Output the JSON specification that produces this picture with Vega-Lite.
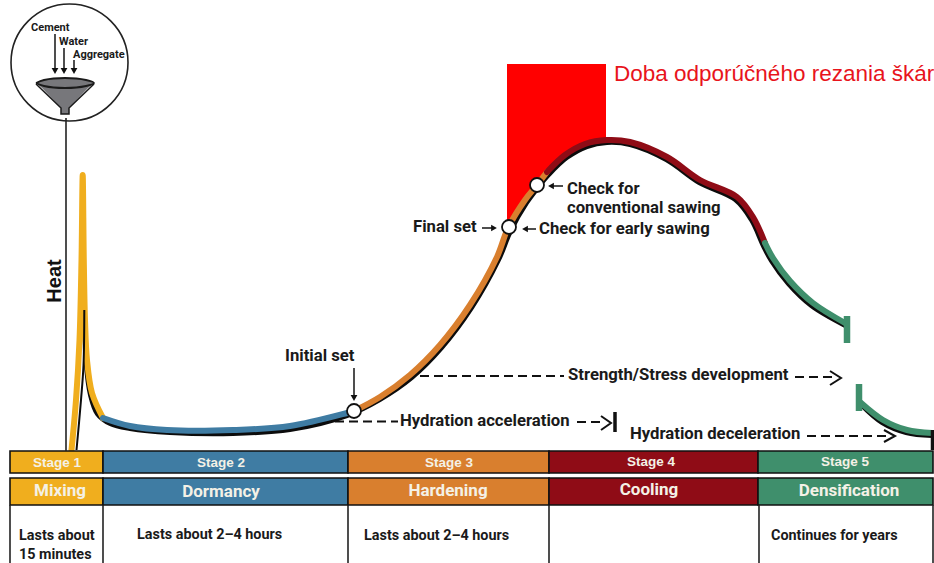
{
"$schema":"https://vega.github.io/schema/vega-lite/v6.json",
"width":934,"height":563,"padding":0,
"autosize":"none",
"background":"#ffffff",
"config":{"view":{"stroke":null}},
"datasets":{
"stages":[
{"x":10,"x2":103,"y":451,"y2":473,"stage":"1"},{"x":103,"x2":348,"y":451,"y2":473,"stage":"2"},{"x":348,"x2":549,"y":451,"y2":473,"stage":"3"},{"x":549,"x2":758,"y":451,"y2":473,"stage":"4"},{"x":758,"x2":933,"y":451,"y2":473,"stage":"5"},
{"x":10,"x2":103,"y":478,"y2":505,"stage":"1"},{"x":103,"x2":348,"y":478,"y2":505,"stage":"2"},{"x":348,"x2":549,"y":478,"y2":505,"stage":"3"},{"x":549,"x2":758,"y":478,"y2":505,"stage":"4"},{"x":758,"x2":933,"y":478,"y2":505,"stage":"5"}],
"curve":[
{"i":1,"seg":"1","x":71.5,"y":450},{"i":2,"seg":"1","x":76,"y":400},{"i":3,"seg":"1","x":79.5,"y":340},{"i":4,"seg":"1","x":81.5,"y":260},{"i":5,"seg":"1","x":82.7,"y":175},{"i":6,"seg":"1","x":83.8,"y":260},{"i":7,"seg":"1","x":85,"y":320},{"i":8,"seg":"1","x":87,"y":360},{"i":9,"seg":"1","x":92,"y":393},{"i":10,"seg":"1","x":103,"y":418},
{"i":11,"seg":"2","x":103,"y":418},{"i":12,"seg":"2","x":130,"y":426},{"i":13,"seg":"2","x":167,"y":430},{"i":14,"seg":"2","x":233,"y":430},{"i":15,"seg":"2","x":290,"y":426},{"i":16,"seg":"2","x":347,"y":413},{"i":17,"seg":"2","x":354,"y":411},
{"i":18,"seg":"3","x":354,"y":411},{"i":19,"seg":"3","x":380,"y":397},{"i":20,"seg":"3","x":410,"y":375},{"i":21,"seg":"3","x":440,"y":345},{"i":22,"seg":"3","x":470,"y":305},{"i":23,"seg":"3","x":497,"y":257},{"i":24,"seg":"3","x":508,"y":228},{"i":25,"seg":"3","x":525,"y":200},{"i":26,"seg":"3","x":537,"y":185},{"i":27,"seg":"3","x":547,"y":172},
{"i":28,"seg":"4","x":547,"y":172},{"i":29,"seg":"4","x":565,"y":155},{"i":30,"seg":"4","x":585,"y":144},{"i":31,"seg":"4","x":607,"y":140},{"i":32,"seg":"4","x":630,"y":142},{"i":33,"seg":"4","x":667,"y":157},{"i":34,"seg":"4","x":700,"y":180},{"i":35,"seg":"4","x":737,"y":197},{"i":36,"seg":"4","x":753,"y":217},{"i":37,"seg":"4","x":765,"y":243},
{"i":38,"seg":"5","x":765,"y":243},{"i":39,"seg":"5","x":773,"y":258},{"i":40,"seg":"5","x":790,"y":281},{"i":41,"seg":"5","x":813,"y":303},{"i":42,"seg":"5","x":845,"y":323},
{"i":43,"seg":"5b","x":860,"y":402},{"i":44,"seg":"5b","x":883,"y":420},{"i":45,"seg":"5b","x":907,"y":430},{"i":46,"seg":"5b","x":932,"y":433}],
"shadow":[
{"i":1,"seg":"a","x":84.5,"y":310},{"i":2,"seg":"a","x":85.5,"y":360},{"i":3,"seg":"a","x":90,"y":395},{"i":4,"seg":"a","x":97,"y":414},{"i":5,"seg":"a","x":110,"y":424},{"i":6,"seg":"a","x":130,"y":429},{"i":7,"seg":"a","x":170,"y":433},{"i":8,"seg":"a","x":233,"y":434},{"i":9,"seg":"a","x":290,"y":430},{"i":10,"seg":"a","x":347,"y":416},{"i":11,"seg":"a","x":380,"y":400},{"i":12,"seg":"a","x":412,"y":378},{"i":13,"seg":"a","x":442,"y":348},{"i":14,"seg":"a","x":472,"y":308},{"i":15,"seg":"a","x":499,"y":260},{"i":16,"seg":"a","x":511,"y":231},{"i":17,"seg":"a","x":527,"y":203},{"i":18,"seg":"a","x":539,"y":187},{"i":19,"seg":"a","x":549,"y":175},{"i":20,"seg":"a","x":567,"y":158},{"i":21,"seg":"a","x":587,"y":147},{"i":22,"seg":"a","x":607,"y":143},{"i":23,"seg":"a","x":630,"y":145},{"i":24,"seg":"a","x":666,"y":160},{"i":25,"seg":"a","x":699,"y":183},{"i":26,"seg":"a","x":735,"y":200},{"i":27,"seg":"a","x":751,"y":220},{"i":28,"seg":"a","x":763,"y":246},{"i":29,"seg":"a","x":771,"y":261},{"i":30,"seg":"a","x":788,"y":284},{"i":31,"seg":"a","x":811,"y":306},{"i":32,"seg":"a","x":845,"y":326},
{"i":33,"seg":"b","x":861,"y":405},{"i":34,"seg":"b","x":882,"y":423},{"i":35,"seg":"b","x":906,"y":433},{"i":36,"seg":"b","x":932,"y":436}],
"spike":[{"i":1,"x":76.5,"y":450},{"i":2,"x":81,"y":400},{"i":3,"x":83.5,"y":365},{"i":4,"x":84.3,"y":310}],
"red":[{"x":507,"y":228,"top":64},{"x":525,"y":200,"top":64},{"x":537,"y":185,"top":64},{"x":547,"y":172,"top":64},{"x":565,"y":155,"top":64},{"x":585,"y":144,"top":64},{"x":606,"y":140,"top":64}],
"funnelBody":[{"x":36,"y":83,"y2":83},{"x":42,"y":80,"y2":88},{"x":61,"y":78,"y2":108},{"x":61,"y":78,"y2":114},{"x":69,"y":78,"y2":114},{"x":69,"y":78,"y2":108},{"x":88,"y":80,"y2":88},{"x":94,"y":83,"y2":83}],
"funnelRim":[{"i":1,"x":36,"y":83},{"i":2,"x":44,"y":80},{"i":3,"x":65,"y":78},{"i":4,"x":86,"y":80},{"i":5,"x":94,"y":83},{"i":6,"x":86,"y":86},{"i":7,"x":65,"y":88},{"i":8,"x":44,"y":86},{"i":9,"x":36,"y":83}],
"funnelOutline":[{"i":1,"x":36,"y":84},{"i":2,"x":61,"y":108},{"i":3,"x":61,"y":114},{"i":4,"x":69,"y":114},{"i":5,"x":69,"y":108},{"i":6,"x":94,"y":84}],
"thinRules":[
{"x":66,"x2":66,"y":118,"y2":451},
{"x":55,"x2":55,"y":34,"y2":72},{"x":64,"x2":64,"y":48,"y2":72},{"x":74,"x2":74,"y":60,"y2":72},
{"x":354,"x2":354,"y":368,"y2":398},
{"x":482,"x2":492,"y":228,"y2":228},{"x":526,"x2":536,"y":229,"y2":229},{"x":552,"x2":563,"y":186,"y2":186},
{"x":10,"x2":10,"y":505,"y2":563},{"x":103,"x2":103,"y":505,"y2":563},{"x":348,"x2":348,"y":505,"y2":563},{"x":549,"x2":549,"y":505,"y2":563},{"x":759,"x2":759,"y":505,"y2":563},{"x":933,"x2":933,"y":505,"y2":563}],
"heads":[
{"x":55,"y":71,"dir":"triangle-down"},{"x":64,"y":71,"dir":"triangle-down"},{"x":74,"y":71,"dir":"triangle-down"},{"x":354,"y":398,"dir":"triangle-down"},
{"x":494,"y":228,"dir":"triangle-right"},{"x":525,"y":229,"dir":"triangle-left"},{"x":551,"y":186,"dir":"triangle-left"}],
"dashes":[
{"id":"a1","x":335,"y":421.5},{"id":"a1","x":398,"y":421.5},
{"id":"a2","x":577,"y":422},{"id":"a2","x":603,"y":422},
{"id":"s1","x":420,"y":376},{"id":"s1","x":564,"y":376},
{"id":"s2","x":795,"y":377},{"id":"s2","x":835,"y":377},
{"id":"d1","x":807,"y":436},{"id":"d1","x":888,"y":436}],
"chevrons":[
{"id":"a","i":1,"x":601,"y":416},{"id":"a","i":2,"x":611,"y":423},{"id":"a","i":3,"x":601,"y":430},
{"id":"s","i":1,"x":830,"y":371},{"id":"s","i":2,"x":841,"y":378},{"id":"s","i":3,"x":830,"y":385},
{"id":"d","i":1,"x":884,"y":430},{"id":"d","i":2,"x":895,"y":436},{"id":"d","i":3,"x":884,"y":442}],
"blackTicks":[{"x":615,"y":412,"y2":432},{"x":932.5,"y":430,"y2":450}],
"greenTicks":[{"x":847,"y":316,"y2":343},{"x":859,"y":384,"y2":411}],
"circles":[{"x":354,"y":411},{"x":509,"y":227},{"x":537,"y":185}]
},
"encoding":{
"x":{"field":"x","type":"quantitative","scale":{"domain":[0,934],"nice":false,"zero":false},"axis":null},
"y":{"field":"y","type":"quantitative","scale":{"domain":[563,0],"nice":false,"zero":false},"axis":null}
},
"layer":[
{"data":{"name":"red"},"mark":{"type":"area","color":"#ff0000","interpolate":"catmull-rom"},"encoding":{"y2":{"field":"top"}}},
{"data":{"values":[{"x":69.5,"y":62.5}]},"mark":{"type":"point","shape":"circle","size":13689,"filled":false,"stroke":"#222222","strokeWidth":1.6,"opacity":1}},
{"data":{"name":"funnelBody"},"mark":{"type":"area","color":"#77777b"},"encoding":{"y2":{"field":"y2"}}},
{"data":{"name":"funnelOutline"},"mark":{"type":"line","color":"#1a1a1a","strokeWidth":1.5},"encoding":{"order":{"field":"i"}}},
{"data":{"name":"funnelRim"},"mark":{"type":"line","color":"#1a1a1a","strokeWidth":1.8,"interpolate":"catmull-rom"},"encoding":{"order":{"field":"i"}}},
{"data":{"name":"shadow"},"mark":{"type":"line","color":"#0c0c0c","strokeWidth":4,"interpolate":"catmull-rom"},"encoding":{"detail":{"field":"seg"},"order":{"field":"i"}}},
{"data":{"name":"curve"},"mark":{"type":"line","strokeWidth":6,"interpolate":"catmull-rom","strokeCap":"round"},"encoding":{"detail":{"field":"seg"},"order":{"field":"i"},"color":{"field":"seg","type":"nominal","legend":null,"scale":{"domain":["1","2","3","4","5","5b"],"range":["#f0ae1e","#3f7ca3","#d97f2e","#8f0c16","#3f8f6c","#3f8f6c"]}}}},
{"data":{"name":"spike"},"mark":{"type":"line","color":"#0c0c0c","strokeWidth":2,"interpolate":"catmull-rom"},"encoding":{"order":{"field":"i"}}},
{"data":{"name":"blackTicks"},"mark":{"type":"rule","color":"#111111","strokeWidth":3.5},"encoding":{"y2":{"field":"y2"}}},
{"data":{"name":"greenTicks"},"mark":{"type":"rule","color":"#3f8f6c","strokeWidth":6.5},"encoding":{"y2":{"field":"y2"}}},
{"data":{"name":"stages"},"mark":{"type":"rect","stroke":"#111111","strokeWidth":1.6},"encoding":{"x2":{"field":"x2"},"y2":{"field":"y2"},"color":{"field":"stage","type":"nominal","legend":null,"scale":{"domain":["1","2","3","4","5"],"range":["#eea51c","#3c7aa0","#d97a2b","#960a10","#3b8a63"]}}}},
{"data":{"name":"thinRules"},"mark":{"type":"rule","color":"#222222","strokeWidth":1.6},"encoding":{"x2":{"field":"x2"},"y2":{"field":"y2"}}},
{"data":{"name":"heads"},"mark":{"type":"point","filled":true,"color":"#111111","size":45,"opacity":1},"encoding":{"shape":{"field":"dir","type":"nominal","legend":null,"scale":null}}},
{"data":{"name":"dashes"},"mark":{"type":"line","color":"#111111","strokeWidth":2,"strokeDash":[9,5]},"encoding":{"detail":{"field":"id"}}},
{"data":{"name":"chevrons"},"mark":{"type":"line","color":"#111111","strokeWidth":2},"encoding":{"detail":{"field":"id"},"order":{"field":"i"}}},
{"data":{"name":"circles"},"mark":{"type":"point","shape":"circle","size":196,"filled":true,"fill":"#ffffff","stroke":"#111111","strokeWidth":1.8,"opacity":1}},
{"data":{"values":[{"x":614,"y":74,"t":"Doba odporúčného rezania škár"}]},"mark":{"type":"text","font":"Liberation Sans","fontSize":22.5,"align":"left","baseline":"middle","color":"#e8141c"},"encoding":{"text":{"field":"t"}}},
{"data":{"values":[{"x":55,"y":281,"t":"Heat"}]},"mark":{"type":"text","font":"Liberation Sans","fontWeight":"bold","fontSize":20,"angle":270,"align":"center","baseline":"middle","color":"#111111"},"encoding":{"text":{"field":"t"}}},
{"data":{"values":[{"x":31,"y":28,"t":"Cement"},{"x":59,"y":42,"t":"Water"},{"x":73,"y":55,"t":"Aggregate"}]},"mark":{"type":"text","font":"Roboto","fontWeight":"bold","fontSize":11,"align":"left","baseline":"middle","color":"#1a1a1a"},"encoding":{"text":{"field":"t"}}},
{"data":{"values":[{"x":413,"y":227,"t":"Final set"},{"x":567,"y":189,"t":"Check for"},{"x":567,"y":208,"t":"conventional sawing"},{"x":539,"y":229,"t":"Check for early sawing"},{"x":285,"y":356,"t":"Initial set"},{"x":568,"y":375,"t":"Strength/Stress development"},{"x":400,"y":421,"t":"Hydration acceleration"},{"x":630,"y":434,"t":"Hydration deceleration"}]},"mark":{"type":"text","font":"Roboto","fontWeight":"bold","fontSize":16.7,"align":"left","baseline":"middle","color":"#1a1a1a"},"encoding":{"text":{"field":"t"}}},
{"data":{"values":[{"x":57,"y":463,"t":"Stage 1"},{"x":221,"y":463,"t":"Stage 2"},{"x":449,"y":463,"t":"Stage 3"},{"x":651,"y":462,"t":"Stage 4"},{"x":845,"y":462,"t":"Stage 5"}]},"mark":{"type":"text","font":"Liberation Sans","fontWeight":"bold","fontSize":13.5,"align":"center","baseline":"middle","color":"#f4f1e6"},"encoding":{"text":{"field":"t"}}},
{"data":{"values":[{"x":60,"y":491,"t":"Mixing"},{"x":221,"y":492,"t":"Dormancy"},{"x":448,"y":491,"t":"Hardening"},{"x":649,"y":490,"t":"Cooling"},{"x":849,"y":491,"t":"Densification"}]},"mark":{"type":"text","font":"Roboto","fontWeight":"bold","fontSize":17,"align":"center","baseline":"middle","color":"#f4f1e6"},"encoding":{"text":{"field":"t"}}},
{"data":{"values":[{"x":19,"y":536,"t":"Lasts about"},{"x":19,"y":555,"t":"15 minutes"},{"x":137,"y":535,"t":"Lasts about 2–4 hours"},{"x":364,"y":536,"t":"Lasts about 2–4 hours"},{"x":771,"y":536,"t":"Continues for years"}]},"mark":{"type":"text","font":"Roboto","fontWeight":"bold","fontSize":14.4,"align":"left","baseline":"middle","color":"#1a1a1a"},"encoding":{"text":{"field":"t"}}}
]
}
